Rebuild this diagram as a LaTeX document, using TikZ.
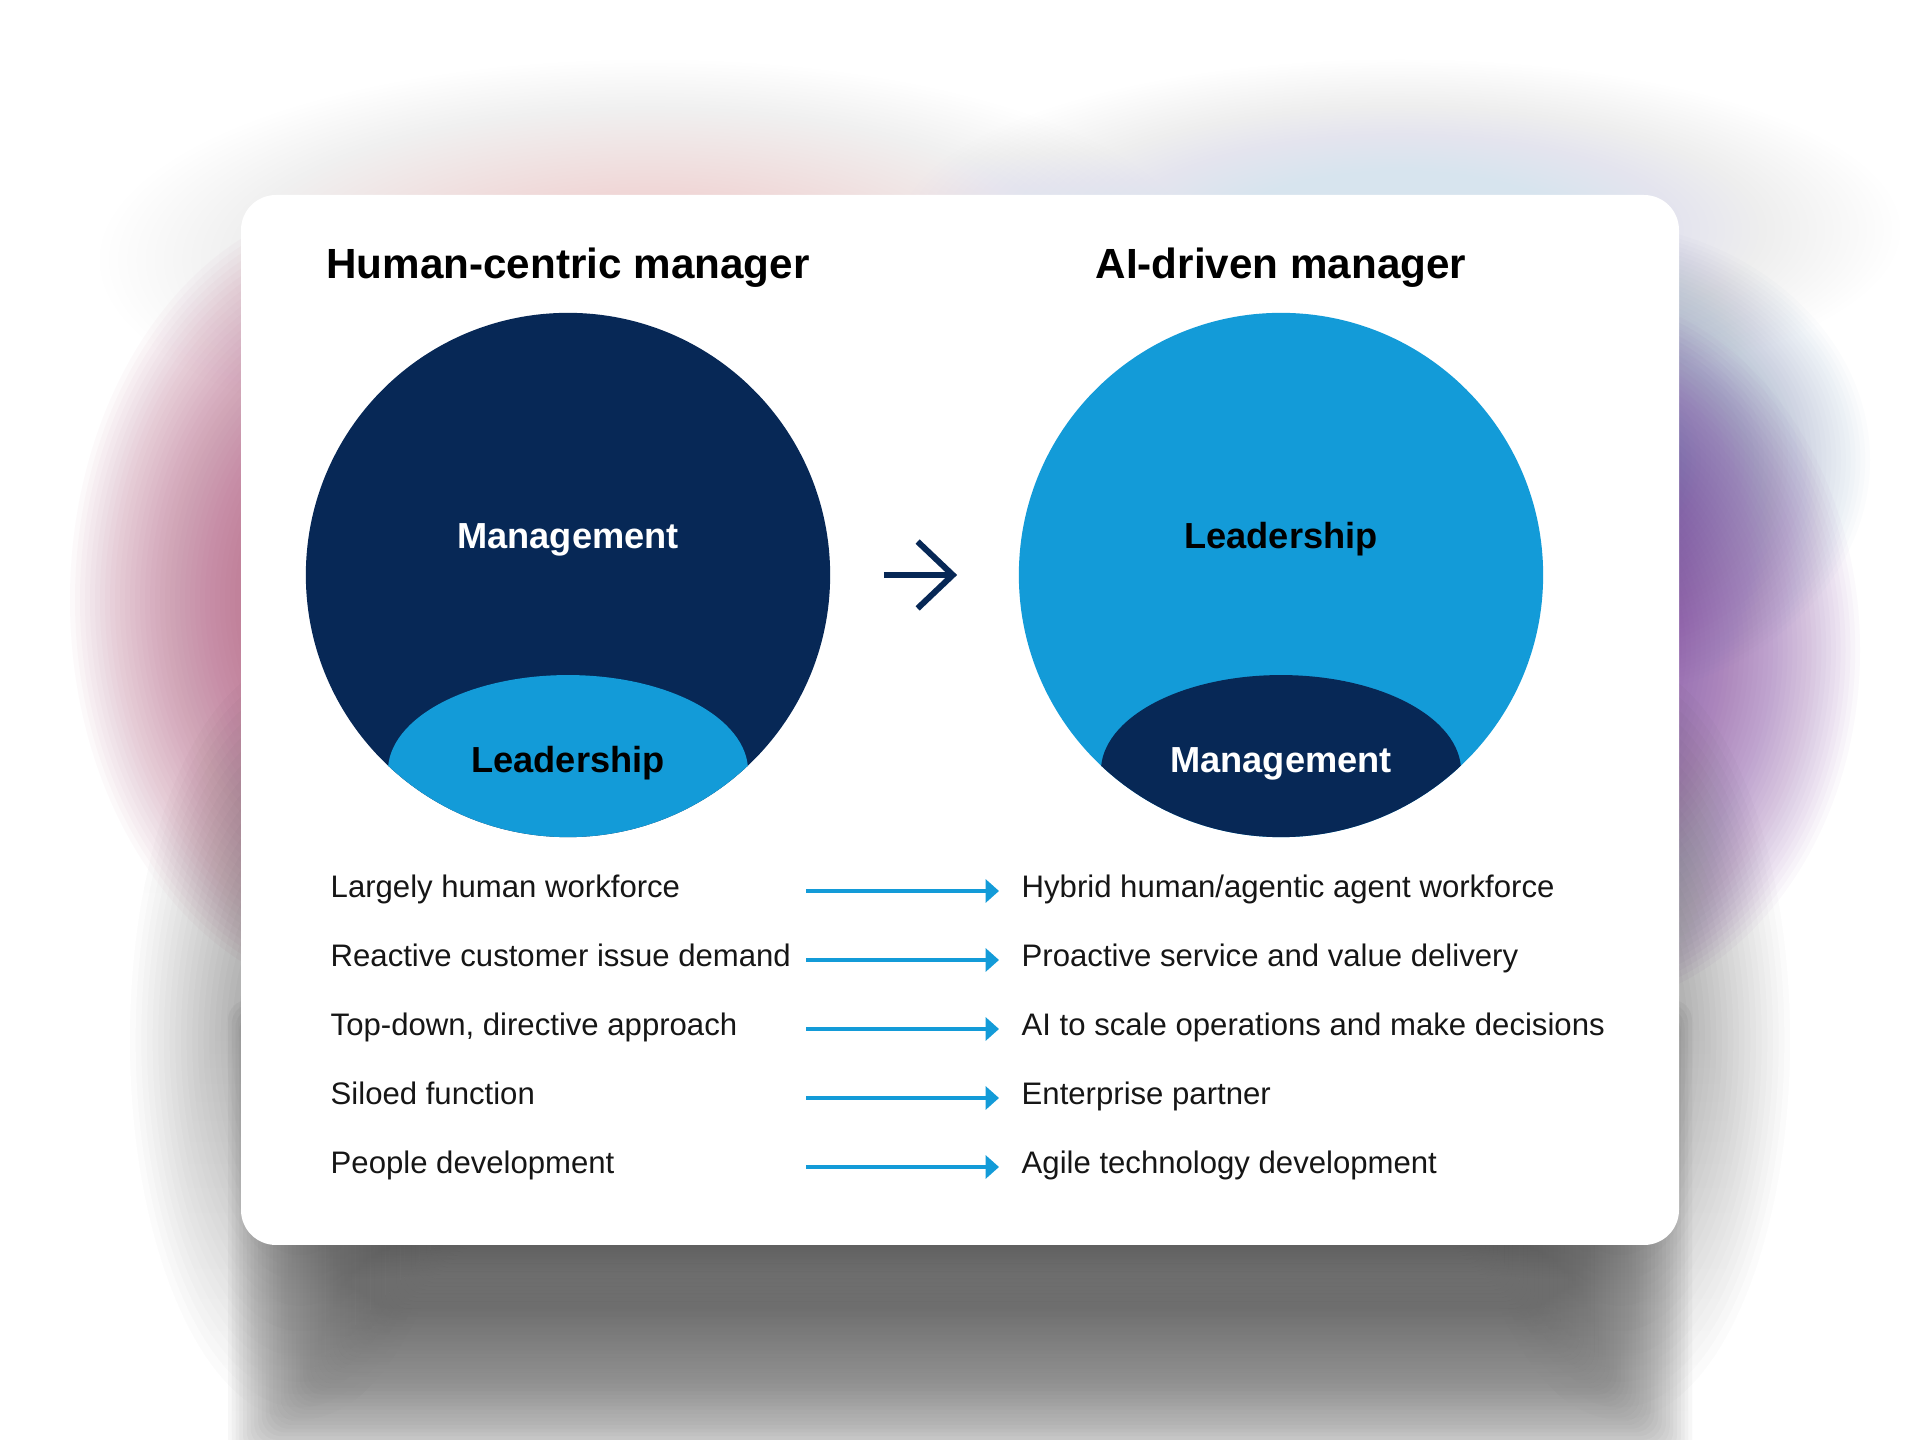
\documentclass[tikz,border=0pt]{standalone}
\usepackage{fontspec}
\setmainfont{Liberation Sans}
\usetikzlibrary{arrows.meta}

\definecolor{navy}{RGB}{7,40,86}
\definecolor{sky}{RGB}{19,155,216}
\definecolor{ink}{RGB}{22,22,22}
\definecolor{glowpink}{RGB}{175,80,120}
\definecolor{glowplum}{RGB}{130,70,160}
\definecolor{glowsteel}{RGB}{110,130,175}
\definecolor{glowrose}{RGB}{240,170,205}
\definecolor{glowmist}{RGB}{215,228,238}
\definecolor{shade}{RGB}{62,56,54}

\newcommand{\glowblob}[7]{%
  \foreach \k in {1,...,#7}
    \fill[#1,opacity=#6] (#2,#3) ellipse ({#4*(1-(\k-1)/#7)*0.01cm} and {#5*(1-(\k-1)/#7)*0.01cm});}
\newcommand{\glowslab}[9]{%
  \foreach \k in {0,...,59}
    \fill[#1,opacity=#9,rounded corners=2mm] ({#2+\k*#6},{#3+\k*#7}) rectangle ({#4-\k*#6},{#5-\k*#8});}

\begin{document}
\begin{tikzpicture}[x=0.01cm,y=-0.01cm,
  bigdisc/.style={circle,inner sep=0pt,minimum size=5.24cm},
  headtext/.style={anchor=base,inner sep=0pt,font=\fontsize{12pt}{14pt}\selectfont\bfseries},
  disctext/.style={anchor=base,inner sep=0pt,font=\fontsize{10.3pt}{12pt}\selectfont\bfseries},
  rowtext/.style={anchor=base west,inner sep=0pt,text=ink,font=\fontsize{8.85pt}{11pt}\selectfont},
  rowarrow/.style={sky,line width=1pt,-{Triangle[length=3.8pt,width=6.5pt]}}]
\useasboundingbox (0,0) rectangle (1920,1440);
\fill[white] (0,0) rectangle (1920,1440);

\glowblob{glowrose}{650}{260}{550}{200}{0.0125}{60}
\glowblob{glowmist}{1400}{230}{500}{170}{0.015}{60}
\glowblob{glowpink}{370}{600}{300}{400}{0.031}{60}
\glowblob{glowsteel}{1580}{460}{290}{240}{0.022}{60}
\glowblob{glowplum}{1570}{650}{290}{360}{0.03}{60}
\glowblob{shade}{300}{1040}{170}{380}{0.01}{30}
\glowblob{shade}{1620}{1040}{170}{380}{0.01}{30}
\glowslab{shade}{228}{1000}{1692}{1470}{3.75}{3.75}{3.75}{0.0265}

\fill[white,rounded corners=3.5mm] (241,195) rectangle (1679,1245);

\node[headtext] (hchead) at (568,279) {Human-centric manager};
\node[headtext] (aihead) at (1281,279) {AI-driven manager};

\node[bigdisc,fill=navy,path picture={\fill[sky] ([yshift=-1.96cm]path picture bounding box.center) ellipse (1.8cm and 0.96cm);}] (hcdisc) at (568,575) {};
\node[bigdisc,fill=sky,path picture={\fill[navy] ([yshift=-1.96cm]path picture bounding box.center) ellipse (1.8cm and 0.96cm);}] (aidisc) at (1281,575) {};

\node[disctext,text=white] (hcmgmt) at (568,549) {Management};
\node[disctext,text=black] (hclead) at (568,773) {Leadership};
\node[disctext,text=black] (ailead) at (1281,549) {Leadership};
\node[disctext,text=white] (aimgmt) at (1281,773) {Management};

\draw[navy,line width=1.7pt,-{Straight Barb[length=10pt,width=19pt]},shorten <=0.53cm,shorten >=0.61cm] (hcdisc) -- (aidisc);

\foreach \lt/\rt [count=\i] in {{Largely human workforce}/{Hybrid human/agentic agent workforce},
    {Reactive customer issue demand}/{Proactive service and value delivery},
    {Top-down, directive approach}/{AI to scale operations and make decisions},
    {Siloed function}/{Enterprise partner},
    {People development}/{Agile technology development}}{
  \node[rowtext] (lrow\i) at (330,{898+69*(\i-1)}) {\lt};
  \node[rowtext] (rrow\i) at (1021,{898+69*(\i-1)}) {\rt};
  \coordinate (afrom\i) at (806,{891+69*(\i-1)});
  \coordinate (ato\i) at (999,{891+69*(\i-1)});
  \draw[rowarrow] (afrom\i) -- (ato\i);
}
\end{tikzpicture}
\end{document}
